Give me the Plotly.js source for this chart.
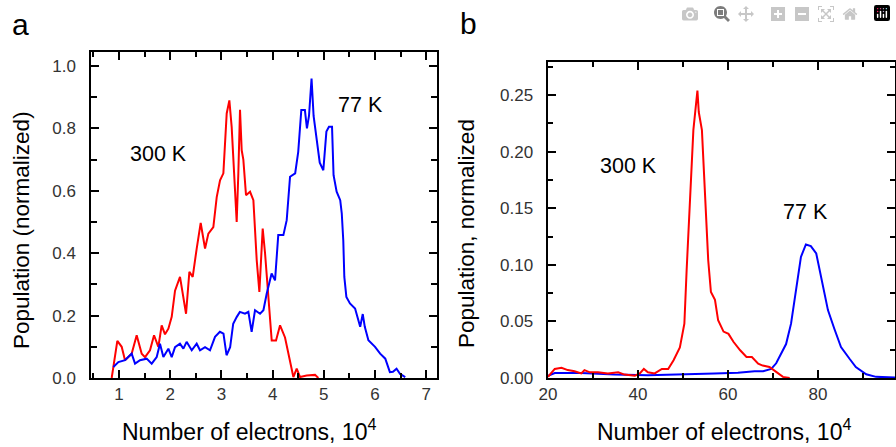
<!DOCTYPE html>
<html>
<head>
<meta charset="utf-8">
<script src="https://cdn.plot.ly/plotly-3.0.1.min.js"></script>
<style>html,body{margin:0;padding:0;background:#fff;}#chart{width:896px;height:447px;}</style>
</head>
<body>
<div id="chart"></div>
<script>
// Panel a: 300 K (red) and 77 K (blue), x in 10^4 electrons
const redA_x = [0.857,0.967,1.052,1.117,1.247,1.345,1.443,1.508,1.605,1.684,1.768,1.833,1.898,1.964,2.029,2.094,2.191,2.257,2.309,2.374,2.439,2.517,2.595,2.68,2.745,2.842,2.908,2.973,3.038,3.103,3.155,3.20,3.266,3.298,3.33,3.363,3.396,3.428,3.48,3.559,3.624,3.689,3.741,3.767,3.806,3.852,3.917,3.982,4.066,4.145,4.242,4.34,4.405,4.47,4.535,4.665,4.828,4.893];
const redA_y = [0,0.119,0.10,0.057,0.078,0.137,0.078,0.067,0.089,0.137,0.10,0.169,0.14,0.158,0.196,0.28,0.324,0.26,0.206,0.34,0.324,0.415,0.497,0.415,0.463,0.484,0.58,0.634,0.656,0.848,0.89,0.805,0.575,0.50,0.655,0.86,0.73,0.70,0.586,0.597,0.57,0.378,0.276,0.356,0.479,0.40,0.27,0.12,0.12,0.169,0.13,0.046,0.003,0.03,0.003,0.008,0.01,0.0];

const blueA_x = [0.889,0.987,1.117,1.247,1.313,1.41,1.54,1.638,1.736,1.80,1.866,1.964,2.029,2.094,2.19,2.257,2.32,2.42,2.517,2.582,2.68,2.777,2.875,2.97,3.04,3.10,3.17,3.23,3.30,3.36,3.46,3.526,3.59,3.656,3.754,3.82,3.884,3.98,4.047,4.11,4.21,4.275,4.34,4.44,4.50,4.56,4.63,4.67,4.71,4.76,4.80,4.86,4.92,4.99,5.05,5.10,5.16,5.19,5.25,5.32,5.35,5.38,5.40,5.44,5.51,5.61,5.66,5.71,5.76,5.80,5.87,6.0,6.10,6.2,6.29,6.35,6.42,6.49,6.59];
const blueA_y = [0.035,0.051,0.057,0.078,0.046,0.057,0.062,0.046,0.067,0.11,0.067,0.094,0.067,0.099,0.11,0.094,0.116,0.089,0.11,0.089,0.099,0.089,0.132,0.148,0.142,0.073,0.099,0.174,0.196,0.212,0.206,0.212,0.148,0.217,0.206,0.217,0.27,0.335,0.313,0.458,0.458,0.506,0.645,0.656,0.725,0.859,0.859,0.80,0.84,0.96,0.84,0.76,0.69,0.666,0.79,0.805,0.805,0.65,0.597,0.57,0.528,0.44,0.324,0.26,0.239,0.223,0.19,0.164,0.205,0.164,0.121,0.1,0.078,0.062,0.019,0.02,0.03,0.013,0.003];

// Panel b
const redB_x = [20,21.5,23,24.4,25.9,27.4,28.1,29.3,31.1,33.3,35.6,37,39.3,40.4,41.3,42.2,43.7,45.3,46.7,47.9,49.3,50.3,50.8,51.6,52.3,53.2,53.5,54.2,54.9,55.6,56.2,57.1,57.8,59.0,60.1,61.2,62.7,64.1,65.3,66.7,67.7,69.2,70.7,72.2,73.7];
const redB_y = [0.001,0.008,0.009,0.007,0.006,0.004,0.007,0.005,0.005,0.004,0.005,0.003,0.002,0.004,0.008,0.005,0.004,0.008,0.008,0.0157,0.027,0.048,0.095,0.163,0.219,0.254,0.235,0.219,0.154,0.104,0.076,0.069,0.051,0.041,0.039,0.032,0.0245,0.0186,0.0186,0.0127,0.011,0.0097,0.0054,0.001,0];

const blueB_x = [20,21.5,27.4,34.8,42.2,49.6,57,62.2,65.9,67.8,69.6,70.7,71.9,72.9,74.0,75.1,76.2,77.3,78.4,79.6,81.0,82.2,83.6,85.1,87.0,88.4,90.7,92.9,97.1];
const blueB_y = [0.002,0.0044,0.0044,0.003,0.0024,0.003,0.004,0.0047,0.006,0.006,0.008,0.013,0.022,0.03,0.048,0.078,0.107,0.118,0.1165,0.11,0.083,0.06,0.0437,0.0274,0.017,0.0097,0.0033,0.001,0.0005];

const W = 896, H = 447;
const PX = x => x / W;
const PY = y => 1 - y / H;
const FONT = 'Liberation Sans, Arial, sans-serif';
const NB = '\u00a0\u00a0';

function axis(extra) {
  return Object.assign({
    showline: true, linecolor: '#000', linewidth: 2,
    ticks: 'inside', ticklen: 8, tickwidth: 1.5, tickcolor: '#000',
    showgrid: false, zeroline: false, mirror: 'ticks',
    tickfont: {family: FONT, size: 17, color: '#333'}
  }, extra);
}

const traces = [
  {x: redA_x, y: redA_y, xaxis: 'x', yaxis: 'y', type: 'scatter', mode: 'lines', line: {color: '#ff0000', width: 2}},
  {x: blueA_x, y: blueA_y, xaxis: 'x', yaxis: 'y', type: 'scatter', mode: 'lines', line: {color: '#0000ff', width: 2}},
  {x: blueB_x, y: blueB_y, xaxis: 'x2', yaxis: 'y2', type: 'scatter', mode: 'lines', line: {color: '#0000ff', width: 2}},
  {x: redB_x, y: redB_y, xaxis: 'x2', yaxis: 'y2', type: 'scatter', mode: 'lines', line: {color: '#ff0000', width: 2}}
];

const txt = {family: FONT, color: '#000'};
const layout = {
  width: W, height: H,
  margin: {l: 0, r: 0, t: 0, b: 0},
  showlegend: false,
  xaxis: axis({
    domain: [PX(90.7), PX(437)], range: [0.447, 7.21], anchor: 'y',
    dtick: 1,
    minor: {dtick: 0.5, ticks: 'inside', ticklen: 5}
  }),
  yaxis: axis({
    domain: [PY(378), PY(52)], range: [0, 1.045], anchor: 'x',
    dtick: 0.2, tickformat: '.1f', ticksuffix: NB,
    minor: {dtick: 0.1, ticks: 'inside', ticklen: 6}
  }),
  xaxis2: axis({
    domain: [PX(548), PX(895)], range: [20, 97.1], anchor: 'y2',
    dtick: 20,
    minor: {dtick: 10, ticks: 'inside', ticklen: 5}
  }),
  yaxis2: axis({
    domain: [PY(378), PY(62)], range: [0, 0.2792], anchor: 'x2',
    dtick: 0.05, tickformat: '.2f', ticksuffix: NB,
    minor: {dtick: 0.025, ticks: 'inside', ticklen: 5}
  }),
  annotations: [
    {text: 'a', x: PX(20.5), y: PY(24), xref: 'paper', yref: 'paper', xanchor: 'center', yanchor: 'middle', showarrow: false, font: Object.assign({size: 30}, txt)},
    {text: 'b', x: PX(468.5), y: PY(23), xref: 'paper', yref: 'paper', xanchor: 'center', yanchor: 'middle', showarrow: false, font: Object.assign({size: 30}, txt)},
    {text: '300 K', x: PX(158), y: PY(154), xref: 'paper', yref: 'paper', xanchor: 'center', yanchor: 'middle', showarrow: false, font: Object.assign({size: 21.5}, txt)},
    {text: '77 K', x: PX(360), y: PY(105), xref: 'paper', yref: 'paper', xanchor: 'center', yanchor: 'middle', showarrow: false, font: Object.assign({size: 21.5}, txt)},
    {text: '300 K', x: PX(628), y: PY(166), xref: 'paper', yref: 'paper', xanchor: 'center', yanchor: 'middle', showarrow: false, font: Object.assign({size: 21.5}, txt)},
    {text: '77 K', x: PX(805), y: PY(212), xref: 'paper', yref: 'paper', xanchor: 'center', yanchor: 'middle', showarrow: false, font: Object.assign({size: 21.5}, txt)},
    {text: 'Population (normalized)', x: PX(21), y: PY(230), xref: 'paper', yref: 'paper', xanchor: 'center', yanchor: 'middle', textangle: -90, showarrow: false, font: Object.assign({size: 22.5}, txt)},
    {text: 'Population, normalized', x: PX(466), y: PY(234), xref: 'paper', yref: 'paper', xanchor: 'center', yanchor: 'middle', textangle: -90, showarrow: false, font: Object.assign({size: 22.5}, txt)},
    {text: 'Number of electrons, 10<sup>4</sup>', x: PX(249), y: 0, xref: 'paper', yref: 'paper', xanchor: 'center', yanchor: 'bottom', showarrow: false, font: Object.assign({size: 23}, txt)},
    {text: 'Number of electrons, 10<sup>4</sup>', x: PX(724), y: 0, xref: 'paper', yref: 'paper', xanchor: 'center', yanchor: 'bottom', showarrow: false, font: Object.assign({size: 23}, txt)}
  ]
};

Plotly.newPlot('chart', traces, layout);
</script>
</body>
</html>
